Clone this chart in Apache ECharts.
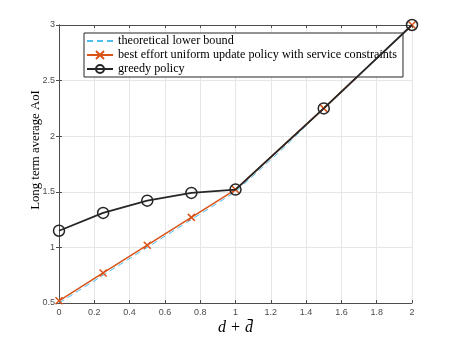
<!DOCTYPE html>
<html>
<head>
<meta charset="utf-8">
<script src="https://cdn.jsdelivr.net/npm/echarts@6/dist/echarts.min.js"></script>
<style>
  html, body { margin: 0; padding: 0; background: #fff; }
  #chart { width: 455px; height: 341px; }
</style>
</head>
<body>
<div id="chart"></div>
<script>
var xVals = [0, 0.25, 0.5, 0.75, 1, 1.5, 2];
var boundX = [0, 0.25, 0.5, 0.75, 1, 1.25, 1.5, 1.75, 2];
var lowerBound = [0.5, 0.75, 1, 1.25, 1.5, 1.86, 2.25, 2.62, 3];
var bestEffort = [0.52, 0.77, 1.02, 1.27, 1.52, 2.25, 3];
var greedy = [1.15, 1.31, 1.42, 1.49, 1.52, 2.25, 3];
var seriesNames = ['theoretical lower bound', 'best effort uniform update policy with service constraints', 'greedy policy'];

function pairs(xs, ys) {
    return xs.map(function (x, i) { return [x, ys[i]]; });
}

var myChart = echarts.init(document.getElementById('chart'));

var axisGrey = '#4d4d4d';
var tickFont = { fontFamily: 'Liberation Sans', fontSize: 9, color: axisGrey };

var option = {
    animation: false,
    backgroundColor: '#fff',
    grid: { left: 59, right: 43, top: 25, bottom: 38 },
    legend: {
        orient: 'vertical',
        left: 84,
        top: 33,
        data: [
            { name: seriesNames[0], itemStyle: { opacity: 0 } },
            seriesNames[1],
            seriesNames[2]
        ],
        itemWidth: 26,
        itemHeight: 10,
        itemGap: 2,
        padding: [2, 6, 2, 2],
        backgroundColor: '#fff',
        borderColor: '#262626',
        borderWidth: 1,
        textStyle: { fontFamily: 'Liberation Serif', fontSize: 12.2, color: '#000' }
    },
    xAxis: [
        {
            type: 'value', min: 0, max: 2, interval: 0.2,
            name: 'd + d\u0304', nameLocation: 'middle', nameGap: 17, nameMoveOverlap: false,
            nameTextStyle: { fontFamily: 'Liberation Serif', fontStyle: 'italic', fontSize: 16, color: '#000' },
            axisLine: { lineStyle: { color: axisGrey } },
            axisTick: { inside: true, length: 3, lineStyle: { color: axisGrey } },
            axisLabel: Object.assign({ margin: 5 }, tickFont),
            splitLine: { show: true, lineStyle: { color: '#e6e6e6' } }
        },
        {
            type: 'value', min: 0, max: 2, interval: 0.2, position: 'top',
            axisLine: { lineStyle: { color: axisGrey } },
            axisTick: { inside: true, length: 3, lineStyle: { color: axisGrey } },
            axisLabel: { show: false },
            splitLine: { show: false }
        }
    ],
    yAxis: [
        {
            type: 'value', min: 0.5, max: 3, interval: 0.5,
            name: 'Long term average AoI', nameLocation: 'middle', nameGap: 17, nameMoveOverlap: false,
            nameTextStyle: { fontFamily: 'Liberation Serif', fontSize: 12.8, color: '#000', padding: [0, 0, 0, 28] },
            axisLine: { show: true, lineStyle: { color: axisGrey } },
            axisTick: { show: true, inside: true, length: 3, lineStyle: { color: axisGrey } },
            axisLabel: Object.assign({ margin: 4 }, tickFont),
            splitLine: { show: true, lineStyle: { color: '#e6e6e6' } }
        },
        {
            type: 'value', min: 0.5, max: 3, interval: 0.5, position: 'right',
            axisLine: { show: true, lineStyle: { color: axisGrey } },
            axisTick: { show: true, inside: true, length: 3, lineStyle: { color: axisGrey } },
            axisLabel: { show: false },
            splitLine: { show: false }
        }
    ],
    series: [
        {
            name: seriesNames[0],
            type: 'line',
            data: pairs(boundX, lowerBound),
            symbol: 'none',
            lineStyle: { color: '#4DBEEE', width: 1, type: [6, 4] },
            itemStyle: { color: '#4DBEEE' },
            z: 2
        },
        {
            name: seriesNames[1],
            type: 'line',
            data: pairs(xVals, bestEffort),
            symbol: 'path://M0,0L10,10M10,0L0,10',
            symbolSize: 7,
            lineStyle: { color: '#D95319', width: 1.5 },
            itemStyle: { color: '#D95319', borderColor: '#D95319', borderWidth: 1.5 },
            z: 3
        },
        {
            name: seriesNames[2],
            type: 'line',
            data: pairs(xVals, greedy),
            symbol: 'circle',
            symbolSize: 11,
            lineStyle: { color: '#262626', width: 1.8 },
            itemStyle: { color: 'rgba(0,0,0,0)', borderColor: '#262626', borderWidth: 1.5 },
            z: 4
        }
    ]
};

myChart.setOption(option);
</script>
</body>
</html>
